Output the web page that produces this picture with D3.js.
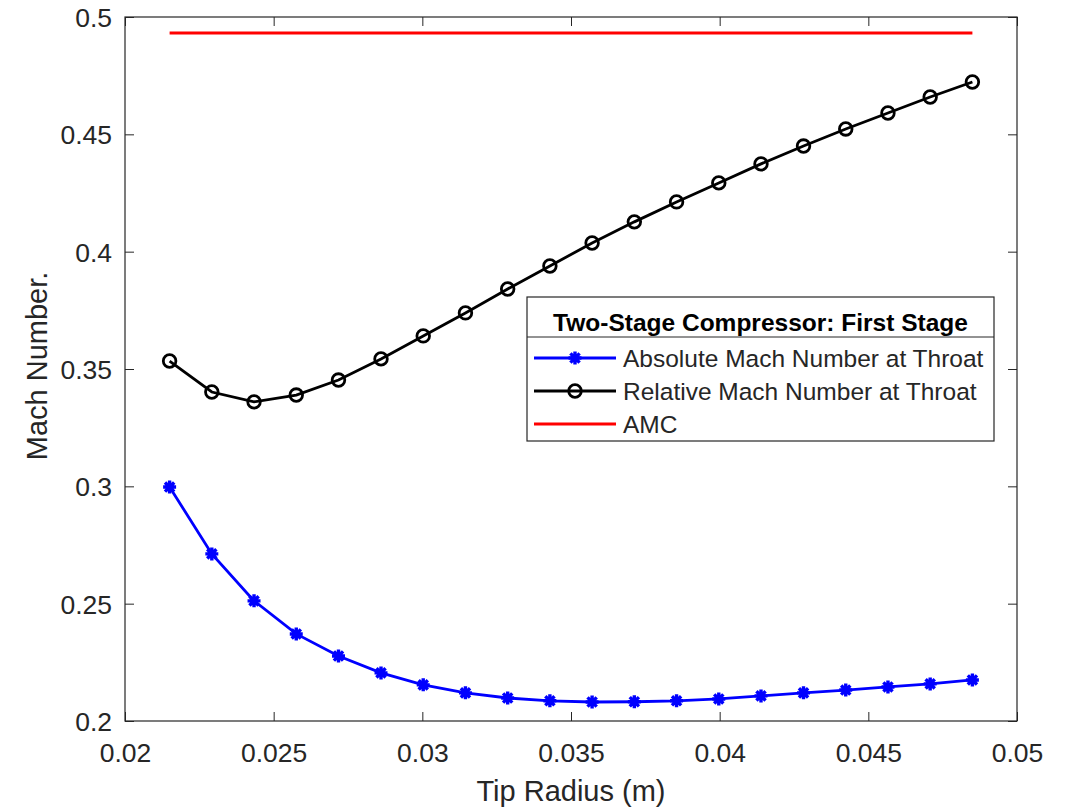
<!DOCTYPE html>
<html>
<head>
<meta charset="utf-8">
<script src="https://cdn.jsdelivr.net/npm/d3@7"></script>
<style>
  body { margin: 0; background: #fff; }
  text { font-family: "Liberation Sans", Arial, sans-serif; }
</style>
</head>
<body>
<div id="chart"></div>
<script>
// Tip radius values (m)
const tipRadius = [0.02150, 0.02292, 0.02434, 0.02576, 0.02718, 0.02861, 0.03003, 0.03145, 0.03287, 0.03429,
                   0.03571, 0.03713, 0.03855, 0.03997, 0.04139, 0.04282, 0.04424, 0.04566, 0.04708, 0.04850];
const absMach = [0.2997, 0.2712, 0.2512, 0.2371, 0.2277, 0.2205, 0.2154, 0.2120, 0.2098, 0.2086,
                 0.2081, 0.2082, 0.2086, 0.2094, 0.2107, 0.2120, 0.2132, 0.2145, 0.2158, 0.2175];
const relMach = [0.3534, 0.3402, 0.3360, 0.3389, 0.3453, 0.3543, 0.3641, 0.3739, 0.3841, 0.3939,
                 0.4037, 0.4127, 0.4212, 0.4293, 0.4374, 0.4450, 0.4523, 0.4591, 0.4659, 0.4723];
const amc = 0.4932;
const xTicks = [0.02, 0.025, 0.03, 0.035, 0.04, 0.045, 0.05];
const yTicks = [0.2, 0.25, 0.3, 0.35, 0.4, 0.45, 0.5];
const legendTitle = "Two-Stage Compressor: First Stage";
const seriesNames = ["Absolute Mach Number at Throat", "Relative Mach Number at Throat", "AMC"];

const width = 1068, height = 810;
const margin = { left: 125, right: 51, top: 17, bottom: 89 };
const axisColor = "#262626";

const svg = d3.select("#chart").append("svg")
    .attr("width", width)
    .attr("height", height);

const x = d3.scaleLinear().domain([0.02, 0.05]).range([margin.left, width - margin.right]);
const y = d3.scaleLinear().domain([0.2, 0.5]).range([height - margin.bottom, margin.top]);

const fmt = d => String(+d.toFixed(3));

// axes, ticks pointing inward like MATLAB
svg.append("g")
    .attr("transform", `translate(0,${y(0.2)})`)
    .call(d3.axisBottom(x).tickValues(xTicks).tickFormat(fmt).tickSizeInner(-9).tickSizeOuter(0))
    .call(g => g.select(".domain").remove())
    .call(g => g.selectAll(".tick text").attr("y", 41).attr("dy", 0));
svg.append("g")
    .attr("transform", `translate(0,${y(0.5)})`)
    .call(d3.axisTop(x).tickValues(xTicks).tickFormat("").tickSizeInner(-9).tickSizeOuter(0))
    .call(g => g.select(".domain").remove());
svg.append("g")
    .attr("transform", `translate(${x(0.02)},0)`)
    .call(d3.axisLeft(y).tickValues(yTicks).tickFormat(fmt).tickSizeInner(-9).tickSizeOuter(0))
    .call(g => g.select(".domain").remove())
    .call(g => g.selectAll(".tick text").attr("x", -13).attr("dy", "0.36em"));
svg.append("g")
    .attr("transform", `translate(${x(0.05)},0)`)
    .call(d3.axisRight(y).tickValues(yTicks).tickFormat("").tickSizeInner(-9).tickSizeOuter(0))
    .call(g => g.select(".domain").remove());

svg.selectAll(".tick line").attr("stroke", axisColor);
svg.selectAll(".tick text").attr("fill", axisColor).style("font-size", "26.5px");

svg.append("rect")
    .attr("x", x(0.02)).attr("y", y(0.5))
    .attr("width", x(0.05) - x(0.02)).attr("height", y(0.2) - y(0.5))
    .attr("fill", "none").attr("stroke", axisColor).attr("stroke-width", 1.2);

// axis labels
svg.append("text")
    .attr("x", (x(0.02) + x(0.05)) / 2).attr("y", 801)
    .attr("text-anchor", "middle").attr("fill", axisColor)
    .style("font-size", "29px").text("Tip Radius (m)");
svg.append("text")
    .attr("transform", `translate(47,366) rotate(-90)`)
    .attr("text-anchor", "middle").attr("fill", axisColor)
    .style("font-size", "29px").text("Mach Number.");

const line = d3.line().x(d => x(d[0])).y(d => y(d[1]));

// asterisk marker path
function starPath(cx, cy, r) {
    const d = r * Math.SQRT1_2;
    return `M${cx - r},${cy}L${cx + r},${cy}M${cx},${cy - r}L${cx},${cy + r}` +
        `M${cx - d},${cy - d}L${cx + d},${cy + d}M${cx - d},${cy + d}L${cx + d},${cy - d}`;
}

// AMC
svg.append("line")
    .attr("x1", x(tipRadius[0])).attr("x2", x(tipRadius[tipRadius.length - 1]))
    .attr("y1", y(amc)).attr("y2", y(amc))
    .attr("stroke", "#ff0000").attr("stroke-width", 3);

// relative Mach
const relData = tipRadius.map((t, i) => [t, relMach[i]]);
svg.append("path").datum(relData).attr("d", line)
    .attr("fill", "none").attr("stroke", "#000").attr("stroke-width", 2.8);
svg.append("g").selectAll("circle").data(relData).join("circle")
    .attr("cx", d => x(d[0])).attr("cy", d => y(d[1])).attr("r", 6.3)
    .attr("fill", "none").attr("stroke", "#000").attr("stroke-width", 2.8);

// absolute Mach
const absData = tipRadius.map((t, i) => [t, absMach[i]]);
svg.append("path").datum(absData).attr("d", line)
    .attr("fill", "none").attr("stroke", "#0000ff").attr("stroke-width", 2.8);
svg.append("g").selectAll("path").data(absData).join("path")
    .attr("d", d => starPath(x(d[0]), y(d[1]), 6.5))
    .attr("fill", "none").attr("stroke", "#0000ff").attr("stroke-width", 3.4);

// legend
const lg = svg.append("g").attr("transform", "translate(527,297)");
lg.append("rect").attr("width", 467).attr("height", 144)
    .attr("fill", "#fff").attr("stroke", axisColor).attr("stroke-width", 1.2);
lg.append("line").attr("x1", 0).attr("x2", 467).attr("y1", 40).attr("y2", 40)
    .attr("stroke", axisColor).attr("stroke-width", 1);
lg.append("text").attr("x", 233.5).attr("y", 34).attr("text-anchor", "middle")
    .attr("font-weight", "bold").attr("fill", "#000").style("font-size", "24.5px").text(legendTitle);

const colors = ["#0000ff", "#000", "#ff0000"];
seriesNames.forEach((name, i) => {
    const cy = 61 + i * 33;
    lg.append("line").attr("x1", 7).attr("x2", 89).attr("y1", cy).attr("y2", cy)
        .attr("stroke", colors[i]).attr("stroke-width", i === 2 ? 3 : 2.8);
    if (i === 0) {
        lg.append("path").attr("d", starPath(48, cy, 6.5))
            .attr("fill", "none").attr("stroke", colors[0]).attr("stroke-width", 3.4);
    } else if (i === 1) {
        lg.append("circle").attr("cx", 48).attr("cy", cy).attr("r", 6.3)
            .attr("fill", "none").attr("stroke", "#000").attr("stroke-width", 2.8);
    }
    lg.append("text").attr("x", 96).attr("y", cy + 9).attr("fill", axisColor)
        .style("font-size", "24.5px").text(name);
});
</script>
</body>
</html>
